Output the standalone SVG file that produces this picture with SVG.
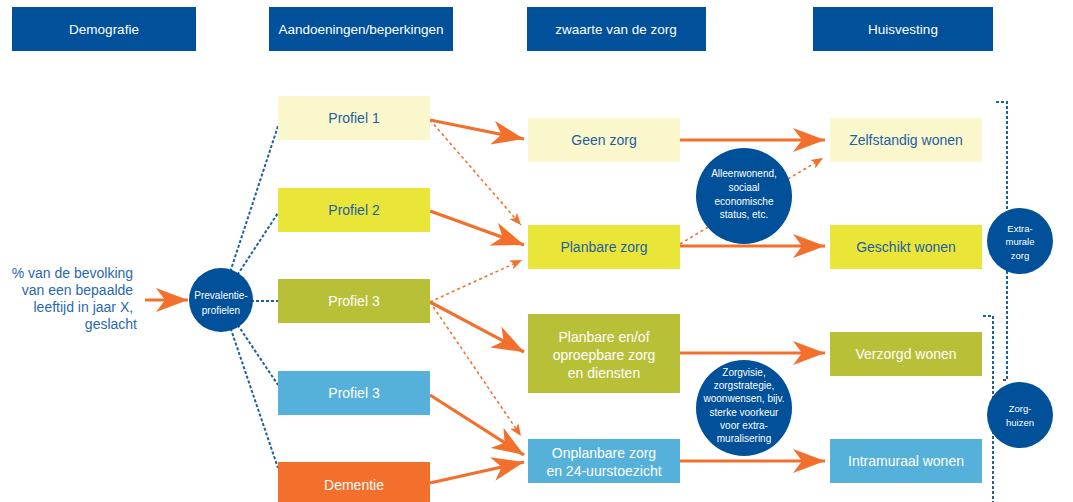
<svg xmlns="http://www.w3.org/2000/svg" width="1073" height="502" viewBox="0 0 1073 502">
<style>
text{font-family:"Liberation Sans",Arial,sans-serif;}
.hdr{fill:#00509A;}
.ht{fill:#FFFFFF;font-size:13.5px;text-anchor:middle;}
.lt{fill:#1F5FA0;font-size:14px;text-anchor:middle;}
.wt{fill:#FFFFFF;font-size:14px;text-anchor:middle;}
.ct{fill:#FFFFFF;font-size:10px;text-anchor:middle;}
.c1{fill:#FAF7CD;}
.c2{fill:#EAE639;}
.c3{fill:#B8C037;}
.c4{fill:#55B1DA;}
.c5{fill:#F2702C;}
.circ{fill:#00509A;}
.sol{stroke:#F2702C;stroke-width:3.2;fill:none;marker-end:url(#ah);}
.dsh{stroke:#F2702C;stroke-width:1.6;fill:none;stroke-dasharray:3 3;marker-end:url(#ahs);}
.bdot{stroke:#1F5FA0;stroke-width:2;fill:none;stroke-dasharray:3 2;}
</style>
<defs>
<marker id="ah" viewBox="0 0 32 24" refX="32" refY="12" markerWidth="32" markerHeight="24" markerUnits="userSpaceOnUse" orient="auto">
<path d="M0,0 L32,12 L0,24 L9,12 Z" fill="#F2702C"/>
</marker>
<marker id="ahs" viewBox="0 0 12 10" refX="12" refY="5" markerWidth="12" markerHeight="10" markerUnits="userSpaceOnUse" orient="auto">
<path d="M0,0 L12,5 L0,10 L3,5 Z" fill="#F2702C"/>
</marker>
</defs>

<g id="headers">
<rect class="hdr" x="12" y="7" width="184" height="44"/>
<text class="ht" x="104" y="34">Demografie</text>
<rect class="hdr" x="269" y="7" width="184" height="44"/>
<text class="ht" x="361" y="34">Aandoeningen/beperkingen</text>
<rect class="hdr" x="527" y="7" width="179" height="44"/>
<text class="ht" x="616" y="34">zwaarte van de zorg</text>
<rect class="hdr" x="813" y="7" width="180" height="44"/>
<text class="ht" x="903" y="34">Huisvesting</text>
</g>

<g id="connectors">
<!-- blue dotted from prevalence circle -->
<line class="bdot" x1="221" y1="300" x2="278" y2="126"/>
<line class="bdot" x1="221" y1="300" x2="278" y2="213"/>
<line class="bdot" x1="221" y1="301" x2="278" y2="301"/>
<line class="bdot" x1="221" y1="300" x2="278" y2="385"/>
<line class="bdot" x1="221" y1="300" x2="278" y2="468"/>
<!-- brackets -->
<path class="bdot" d="M996,102 H1007 V380 H1001"/>
<path class="bdot" d="M983,316 H993 V502"/>
<!-- input arrow -->
<line class="sol" x1="145" y1="300" x2="188" y2="300"/>
<!-- solid arrows col 2 -> col 3 -->
<line class="sol" x1="430" y1="120" x2="524" y2="139"/>
<line class="sol" x1="430" y1="211" x2="524" y2="245"/>
<line class="sol" x1="430" y1="302" x2="524" y2="352"/>
<line class="sol" x1="430" y1="395" x2="524" y2="455"/>
<line class="sol" x1="430" y1="483" x2="524" y2="462"/>
<!-- dashed arrows col 2 -> col 3 -->
<line class="dsh" x1="430" y1="120" x2="521" y2="225"/>
<line class="dsh" x1="430" y1="302" x2="522" y2="260"/>
<line class="dsh" x1="430" y1="302" x2="521" y2="436"/>
<!-- col 3 -> col 4 -->
<line class="sol" x1="680" y1="140" x2="825" y2="140"/>
<line class="sol" x1="680" y1="246" x2="825" y2="246"/>
<line class="sol" x1="680" y1="353" x2="825" y2="353"/>
<line class="sol" x1="680" y1="461" x2="825" y2="461"/>
<line class="dsh" x1="680" y1="244" x2="823" y2="158"/>
</g>

<g id="demografie-tekst">
<text style="fill:#2A68AE;font-size:14px;text-anchor:end">
<tspan x="137" y="278">% van de bevolking</tspan>
<tspan x="137" y="295">van een bepaalde</tspan>
<tspan x="137" y="312">leeftijd in jaar X,</tspan>
<tspan x="137" y="329">geslacht</tspan>
</text>
</g>

<g id="prevalentie">
<circle class="circ" cx="221" cy="300" r="32"/>
<text class="ct" x="221" y="299">Prevalentie-</text>
<text class="ct" x="221" y="314">profielen</text>
</g>

<g id="profiel1"><rect class="c1" x="278" y="96" width="152" height="44"/><text class="lt" x="354" y="123">Profiel 1</text></g>
<g id="profiel2"><rect class="c2" x="278" y="188" width="152" height="44"/><text class="lt" x="354" y="215">Profiel 2</text></g>
<g id="profiel3a"><rect class="c3" x="278" y="279" width="152" height="44"/><text class="wt" x="354" y="306">Profiel 3</text></g>
<g id="profiel3b"><rect class="c4" x="278" y="371" width="152" height="44"/><text class="wt" x="354" y="398">Profiel 3</text></g>
<g id="dementie"><rect class="c5" x="278" y="462" width="152" height="44"/><text class="wt" x="354" y="490">Dementie</text></g>

<g id="geen-zorg"><rect class="c1" x="528" y="118" width="152" height="44"/><text class="lt" x="604" y="145">Geen zorg</text></g>
<g id="planbare-zorg"><rect class="c2" x="528" y="225" width="152" height="44"/><text class="lt" x="604" y="252">Planbare zorg</text></g>
<g id="planbare-oproepbare"><rect class="c3" x="528" y="314" width="152" height="79"/>
<text class="wt"><tspan x="604" y="342">Planbare en/of</tspan><tspan x="604" y="360">oproepbare zorg</tspan><tspan x="604" y="378">en diensten</tspan></text></g>
<g id="onplanbare"><rect class="c4" x="528" y="439" width="152" height="44"/>
<text class="wt"><tspan x="604" y="458">Onplanbare zorg</tspan><tspan x="604" y="476">en 24-uurstoezicht</tspan></text></g>

<g id="alleenwonend">
<circle class="circ" cx="744" cy="196" r="48"/>
<text class="ct"><tspan x="744" y="177">Alleenwonend,</tspan><tspan x="744" y="191">sociaal</tspan><tspan x="744" y="205">economische</tspan><tspan x="744" y="218">status, etc.</tspan></text>
</g>
<g id="zorgvisie">
<circle class="circ" cx="744" cy="408" r="48"/>
<text class="ct"><tspan x="744" y="376">Zorgvisie,</tspan><tspan x="744" y="389">zorgstrategie,</tspan><tspan x="744" y="402">woonwensen, bijv.</tspan><tspan x="744" y="416">sterke voorkeur</tspan><tspan x="744" y="429">voor extra-</tspan><tspan x="744" y="442">muralisering</tspan></text>
</g>

<g id="zelfstandig"><rect class="c1" x="830" y="118" width="152" height="44"/><text class="lt" x="906" y="145">Zelfstandig wonen</text></g>
<g id="geschikt"><rect class="c2" x="830" y="225" width="152" height="44"/><text class="lt" x="906" y="252">Geschikt wonen</text></g>
<g id="verzorgd"><rect class="c3" x="830" y="332" width="152" height="44"/><text class="wt" x="906" y="359">Verzorgd wonen</text></g>
<g id="intramuraal"><rect class="c4" x="830" y="439" width="152" height="44"/><text class="wt" x="906" y="466">Intramuraal wonen</text></g>

<g id="extramurale">
<circle class="circ" cx="1020" cy="241" r="33"/>
<text class="ct" style="font-size:9.5px"><tspan x="1020" y="232">Extra-</tspan><tspan x="1020" y="245">murale</tspan><tspan x="1020" y="259">zorg</tspan></text>
</g>
<g id="zorghuizen">
<circle class="circ" cx="1020" cy="415" r="33"/>
<text class="ct" style="font-size:9.5px"><tspan x="1020" y="412">Zorg-</tspan><tspan x="1020" y="426">huizen</tspan></text>
</g>
</svg>
